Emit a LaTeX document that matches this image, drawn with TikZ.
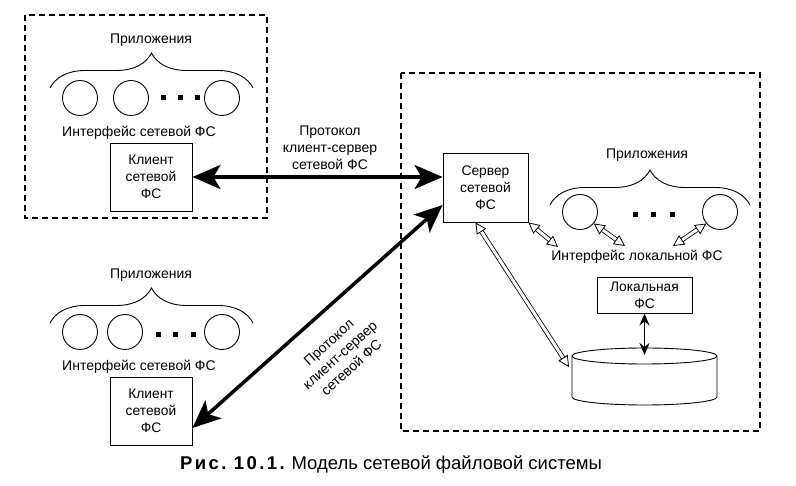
\documentclass[tikz,border=0pt]{standalone}
\usepackage{fontspec}
\setmainfont{Liberation Sans}
\usetikzlibrary{arrows.meta,decorations.pathreplacing}

\tikzset{
    app/.style={draw,circle,minimum size=35pt,inner sep=0pt,line width=0.9pt},
    fsbox/.style={draw,line width=0.9pt,align=center,inner sep=0pt,font=\fontsize{13.8}{17}\selectfont},
    lbl/.style={align=center,inner sep=1pt,font=\fontsize{14}{17}\selectfont},
    zone/.style={line width=1.2pt,dash pattern=on 6pt off 4pt},
    appbrace/.style={line width=0.9pt,decorate,decoration={brace,amplitude=35pt}},
    net/.style={line width=3.5pt,{Stealth[length=28pt,width=24pt,inset=7pt]}-{Stealth[length=28pt,width=24pt,inset=7pt]}},
    hollow/.style={double,double distance=3pt,line width=0.8pt,{Triangle[open,length=11pt,width=11pt]}-{Triangle[open,length=11pt,width=11pt]}},
    local/.style={line width=1.6pt,{Stealth[length=12pt,width=10pt]}-{Stealth[length=12pt,width=10pt]}}
}

\begin{document}
\begin{tikzpicture}[x=1pt,y=-1pt]
    \useasboundingbox (0,0) rectangle (796,486);

    % clients
    \draw [zone] (25,15) rectangle (267,218);
    \node [lbl] (tapps) at (151,40) {Приложения};
    \draw [appbrace] (50,88) -- (253,88);
    \foreach \x/\n in {80/1,131/2,222/3}
        \node [app] (ta\n) at (\x,98) {};
    \foreach \x in {163,180,197}
        \fill (\x-2.5,95.5) rectangle ++(5,5);
    \node [lbl] (tif) at (139,133) {Интерфейс сетевой ФС};
    \node [fsbox,minimum width=82pt,minimum height=68pt] (cl1) at (151,177) {Клиент\\сетевой\\ФС};

    \node [lbl] (bapps) at (151,275) {Приложения};
    \draw [appbrace] (50,323) -- (253,323);
    \foreach \x/\n in {80/1,125/2,222/3}
        \node [app] (ba\n) at (\x,332) {};
    \foreach \x in {158,175,193}
        \fill (\x-2.5,332.5) rectangle ++(5,5);
    \node [lbl] (bif) at (139,367) {Интерфейс сетевой ФС};
    \node [fsbox,minimum width=82pt,minimum height=68pt] (cl2) at (151,411) {Клиент\\сетевой\\ФС};

    % server
    \draw [zone] (401,73) rectangle (760,431);
    \node [fsbox,minimum width=85pt,minimum height=69pt] (srv) at (485.5,187.5) {Сервер\\сетевой\\ФС};
    \node [lbl] (rapps) at (647,155) {Приложения};
    \draw [appbrace] (550,205) -- (750,205);
    \foreach \x/\n in {580/1,720/2}
        \node [app] (ra\n) at (\x,212) {};
    \foreach \x in {635,653,672}
        \fill (\x-2.5,212.5) rectangle ++(5,5);
    \node [lbl] (lif) at (637,257) {Интерфейс локальной ФС};
    \node [fsbox,minimum width=95pt,minimum height=36pt] (lfs) at (644.5,295) {Локальная\\ФС};

    \draw [line width=0.9pt,fill=white] (572,356) -- (572,397) arc [start angle=180,end angle=0,x radius=72.5,y radius=8] -- (717,356);
    \draw [line width=0.9pt] (644.5,356) ellipse [x radius=72.5,y radius=8];
    \coordinate (dtop) at (644.5,355);
    \coordinate (dleft) at (569,367);

    \coordinate (if1) at (558,247);
    \coordinate (if2) at (625,246);
    \coordinate (if3) at (673,246);

    % links
    \draw [net] (cl1.east) -- (cl1.east -| srv.west);
    \draw [net] ([yshift=-17pt]cl2.east) -- ([yshift=-17.5pt]srv.west);
    \node [lbl] (proto1) at (330,148) {Протокол\\клиент-сервер\\сетевой ФС};
    \node [lbl,rotate=42] (proto2) at (340,355) {Протокол\\клиент-сервер\\сетевой ФС};

    \draw [hollow] (srv.south east) -- (if1);
    \draw [hollow] (ra1.-40) -- (if2);
    \draw [hollow] (ra2.-140) -- (if3);
    \draw [hollow] ([xshift=-10pt]srv.south) -- (dleft);
    \draw [local] (lfs.south) -- (dtop);

    \node [font=\fontsize{18.5}{21}\selectfont] (cap) at (391,465) {{\bfseries\addfontfeature{LetterSpace=13}Рис.\ 10.1.} Модель сетевой файловой системы};
\end{tikzpicture}
\end{document}
